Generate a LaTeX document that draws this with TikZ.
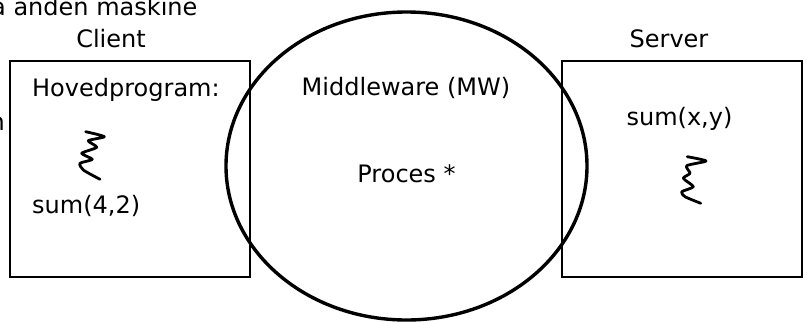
\documentclass[tikz,border=0pt]{standalone}
\usepackage{fontspec}
\setmainfont{DejaVu Sans}
\usetikzlibrary{shapes.geometric}
\begin{document}
\begin{tikzpicture}[x=1pt,y=-1pt,
  txt/.style={inner sep=0pt,font=\fontsize{24}{28}\selectfont},
  machine/.style={draw,line width=1.4pt,minimum width=240pt,minimum height=216pt,inner sep=0pt},
  mwring/.style={draw,line width=3.4pt,ellipse,minimum width=361pt,minimum height=308pt,inner sep=0pt},
  squiggle/.style={line width=2.8pt,line cap=round,line join=round}]
\useasboundingbox (0,0) rectangle (807,322);

% the two machines and the middleware between them
\node[machine] (client) at (130,169) {};
\node[machine] (server) at (682,169) {};
\node[mwring] (mw) at (406.5,166) {};

% headings above the boxes
\node[txt,anchor=base west] (remote) at (-9,15) {a anden maskine};
\node[txt,anchor=base] (clientlbl) at (111,47) {Client};
\node[txt,anchor=base] (serverlbl) at (669,47) {Server};
\node[txt,anchor=base east] (cut) at (5,130) {n};

% client contents
\node[txt,anchor=base west] (mainprog) at (32,96) {Hovedprogram:};
\node[txt,anchor=base west] (call) at (32,213) {sum(4,2)};

% middleware contents
\node[txt,anchor=base] (mwlbl) at (406,95) {Middleware (MW)};
\node[txt,anchor=base] (proc) at (406.5,182) {Proces *};

% server contents
\node[txt,anchor=base] (def) at (679.5,125) {sum(x,y)};

% hand-drawn code squiggles
\draw[squiggle] plot[smooth,tension=0.4] coordinates {
  (85.7,131.7) (104.3,136.7) (88.3,140.7) (96.7,147.3) (81.7,153.3)
  (92.3,159.3) (80,163.3) (83.3,170) (100,179.3)};
\draw[squiggle] plot[smooth,tension=0.4] coordinates {
  (687.3,156.7) (706,161) (686.7,165.7) (690,173.3) (683.3,178.3)
  (693.3,186.7) (681.7,191.7) (685,196.7) (700.7,203.3)};
\end{tikzpicture}
\end{document}
